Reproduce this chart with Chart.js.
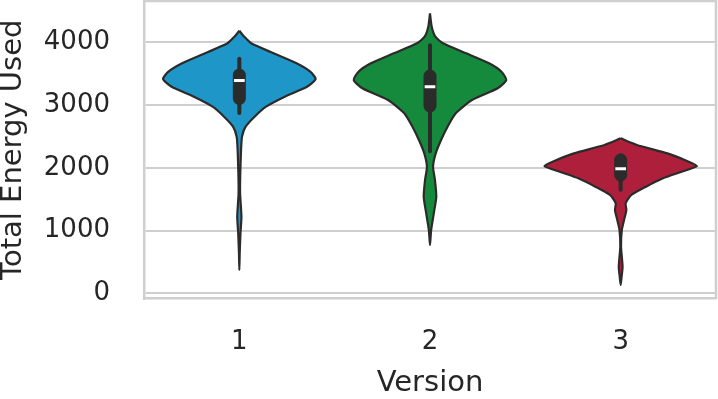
<!DOCTYPE html>
<html>
<head>
<meta charset="utf-8">
<script src="https://cdn.jsdelivr.net/npm/chart.js@4"></script>
<style>
  html, body { margin: 0; padding: 0; background: #fff; }
  #wrap { width: 718px; height: 399px; }
</style>
</head>
<body>
<div id="wrap"><canvas id="violinChart"></canvas></div>
<script>
// ── Data ──────────────────────────────────────
const versions = ['1', '2', '3'];
const yTicks   = [0, 1000, 2000, 3000, 4000];
const colors   = ['#1e96c8', '#168a3c', '#ae1f3c'];

// violin outline: energy levels (top → bottom) and half widths (category units)
const v1Levels = [4185, 4089, 3984, 3825, 3666, 3532, 3416, 3293, 3134, 2975, 2815, 2656, 2497, 2285, 1914, 1596, 1223, 959, 640, 374];
const v1Widths = [0, 0.026, 0.062, 0.18, 0.30, 0.372, 0.40, 0.355, 0.238, 0.14, 0.08, 0.033, 0.014, 0.009, 0.005, 0.004, 0.011, 0.006, 0.002, 0];

const v2Levels = [4462, 4248, 4089, 3984, 3825, 3666, 3532, 3400, 3268, 3081, 2869, 2656, 2444, 2232, 2019, 1807, 1541, 1277, 1011, 772];
const v2Widths = [0, 0.009, 0.028, 0.068, 0.19, 0.31, 0.375, 0.40, 0.355, 0.22, 0.135, 0.092, 0.058, 0.030, 0.016, 0.026, 0.033, 0.020, 0.006, 0];

const v3Levels = [2471, 2365, 2232, 2126, 2030, 1939, 1834, 1701, 1568, 1436, 1330, 1197, 1011, 745, 427, 268, 135];
const v3Widths = [0, 0.085, 0.245, 0.336, 0.40, 0.32, 0.222, 0.133, 0.056, 0.026, 0.030, 0.020, 0.006, 0.002, 0.010, 0.005, 0];

// box stats: whisker low/high, q1/q3, median
const whiskLo = [2874, 2264, 1653];
const whiskHi = [3739, 3952, 2201];
const q1      = [3108, 2986, 1887];
const q3      = [3479, 3463, 2126];
const medians = [3390, 3293, 1987];

// ── Build the datasets ────────────────────────
const OUTLINE = '#2b2b2b';
const GRID    = '#cfcfcf';

function violinPoints(center, levels, widths) {
  const right = levels.map((y, i) => ({ x: center + widths[i], y }));
  const left  = levels.map((y, i) => ({ x: center - widths[i], y })).reverse().slice(1);
  return right.concat(left);
}

const violins = [[v1Levels, v1Widths], [v2Levels, v2Widths], [v3Levels, v3Widths]];
const datasets = [];

violins.forEach(([lv, wd], i) => {
  const c = i + 1;
  datasets.push({
    data: violinPoints(c, lv, wd),
    borderColor: OUTLINE,
    backgroundColor: colors[i],
    borderWidth: 2.2,
    fill: 'shape',
    tension: 0.2,
    pointRadius: 0,
    order: 3,
  });
  // whisker
  datasets.push({
    data: [{ x: c, y: whiskLo[i] }, { x: c, y: whiskHi[i] }],
    borderColor: OUTLINE, borderWidth: 4, borderCapStyle: 'round',
    pointRadius: 0, fill: false, order: 2,
  });
  // box
  datasets.push({
    data: [{ x: c, y: q1[i] }, { x: c, y: q3[i] }],
    borderColor: OUTLINE, borderWidth: 13, borderCapStyle: 'round',
    pointRadius: 0, fill: false, order: 1,
  });
  // median
  datasets.push({
    data: [{ x: c - 0.028, y: medians[i] }, { x: c + 0.028, y: medians[i] }],
    borderColor: '#ffffff', borderWidth: 3,
    pointRadius: 0, fill: false, order: 0,
  });
});

// top/right spines
const frame = {
  id: 'frame',
  beforeDatasetsDraw(chart) {
    const { ctx, chartArea: a } = chart;
    ctx.save();
    ctx.strokeStyle = GRID;
    ctx.lineWidth = 2.5;
    ctx.beginPath();
    ctx.moveTo(a.left, a.top);
    ctx.lineTo(a.right, a.top);
    ctx.lineTo(a.right, a.bottom);
    ctx.stroke();
    ctx.restore();
  },
};

const FONT = 'DejaVu Sans';
const TEXT = '#262626';

new Chart(document.getElementById('violinChart'), {
  type: 'line',
  data: { datasets },
  plugins: [frame],
  options: {
    responsive: true,
    maintainAspectRatio: false,
    animation: false,
    layout: { autoPadding: false, padding: { top: 1, right: 2, left: 0, bottom: 0 } },
    plugins: { legend: { display: false }, tooltip: { enabled: false } },
    scales: {
      x: {
        type: 'linear',
        min: 0.5, max: 3.5,
        afterBuildTicks: s => { s.ticks = versions.map((v, i) => ({ value: i + 1 })); },
        afterFit: s => { s.height = 100.5; s.paddingLeft = 0; s.paddingRight = 0; },
        grid: { display: false, drawTicks: false },
        border: { display: true, color: GRID, width: 2.5 },
        ticks: {
          callback: v => versions[v - 1],
          padding: 28, color: TEXT,
          font: { family: FONT, size: 26 },
          maxRotation: 0,
        },
        title: {
          display: true, text: 'Version', color: TEXT,
          font: { family: FONT, size: 29, lineHeight: 1.1 },
          padding: 0,
        },
      },
      y: {
        min: -80, max: 4658,
        afterBuildTicks: s => { s.ticks = yTicks.map(v => ({ value: v })); },
        afterFit: s => { s.width = 144; s.paddingTop = 0; s.paddingBottom = 0; },
        grid: { color: GRID, lineWidth: 2, drawTicks: false },
        border: { display: true, color: GRID, width: 2.5 },
        ticks: {
          callback: v => String(v),
          padding: 34, color: TEXT,
          font: { family: FONT, size: 26 },
        },
        title: {
          display: true, text: 'Total Energy Used', color: TEXT,
          font: { family: FONT, size: 29, lineHeight: 0.92 },
          padding: 0,
        },
      },
    },
  },
});
</script>
</body>
</html>
